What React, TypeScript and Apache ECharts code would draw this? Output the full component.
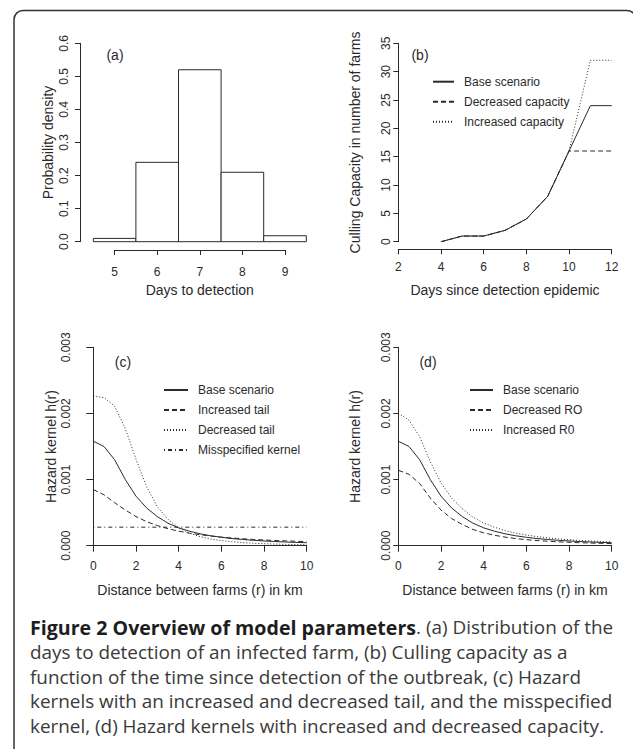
import React, { useEffect, useRef } from "react";
import * as echarts from "echarts";

// ---------- Data ----------
// (a) histogram of days to detection
const histDays = [5, 6, 7, 8, 9];
const histDensity = [0.01, 0.24, 0.52, 0.21, 0.018];

// (b) culling capacity
const cullDays = [4, 5, 6, 7, 8, 9, 10, 11, 12];
const cullBase = [0, 1, 1, 2, 4, 8, 16, 24, 24];
const cullDecreased = [0, 1, 1, 2, 4, 8, 16, 16, 16];
const cullIncreased = [0, 1, 1, 2, 4, 8, 16, 32, 32];

// (c) and (d) hazard kernels
const distanceKm = [0, 0.5, 1, 1.5, 2, 2.5, 3, 3.5, 4, 4.5, 5, 5.5, 6, 6.5, 7, 7.5, 8, 8.5, 9, 9.5, 10];
const kernelBase = [0.00158, 0.0015, 0.0013, 0.001, 0.00075, 0.00057, 0.00044, 0.00034, 0.00027, 0.00022, 0.00018, 0.00015, 0.000127, 0.000108, 0.000094, 0.000081, 0.000072, 0.000063, 0.000056, 0.00005, 0.000045];
const kernelIncreasedTail = [0.00085, 0.00077, 0.00065, 0.00054, 0.00044, 0.000364, 0.000304, 0.000257, 0.00022, 0.00019, 0.000166, 0.000147, 0.00013, 0.000117, 0.000105, 0.000095, 0.000087, 0.000079, 0.000073, 0.000067, 0.000062];
const kernelDecreasedTail = [0.00226, 0.00224, 0.00211, 0.00177, 0.00131, 0.00089, 0.00059, 0.0004, 0.00027, 0.00019, 0.000137, 0.0001, 0.000077, 0.000059, 0.000046, 0.000037, 0.00003, 0.000025, 0.00002, 0.000017, 0.000014];
const misspecDistance = [0, 10];
const kernelMisspecified = [0.00028, 0.00028];
const kernelDecreasedR0 = [0.00114, 0.00108, 0.00094, 0.00072, 0.00054, 0.00041, 0.00032, 0.000245, 0.000195, 0.000158, 0.00013, 0.000108, 0.000091, 0.000078, 0.000068, 0.000058, 0.000052, 0.000045, 0.00004, 0.000036, 0.000032];
const kernelIncreasedR0 = [0.002, 0.0019, 0.00165, 0.00127, 0.00095, 0.00072, 0.00056, 0.00043, 0.000343, 0.00028, 0.000229, 0.00019, 0.000161, 0.000137, 0.000119, 0.000103, 0.000091, 0.00008, 0.000071, 0.000064, 0.000057];

const captionLines = [
  "{b|Figure 2 Overview of model parameters}. (a) Distribution of the",
  "days to detection of an infected farm, (b) Culling capacity as a",
  "function of the time since detection of the outbreak, (c) Hazard",
  "kernels with an increased and decreased tail, and the misspecified",
  "kernel, (d) Hazard kernels with increased and decreased capacity.",
];

// ---------- Styles ----------
const FONT = "'Liberation Sans', Arial, sans-serif";
const CAPTION_FONT = "'Open Sans', sans-serif";
const INK = "#2a2a2a";
const TICK_SIZE = 12;
const SOLID = "solid";
const DASHED = [5, 3];
const DOTTED = [1, 2];
const DOTDASH = [1, 3, 4, 3];

const pairs = (xs: number[], ys: number[]) => xs.map((x, i) => [x, ys[i]]);

function lineSeries(name: string, xs: number[], ys: number[], idx: number, type: any) {
  return {
    type: "line",
    name,
    xAxisIndex: idx,
    yAxisIndex: idx,
    data: pairs(xs, ys),
    symbol: "none",
    showSymbol: false,
    silent: true,
    lineStyle: { color: INK, width: 1, type },
    itemStyle: { color: INK },
    emphasis: { disabled: true },
  };
}

function xAxisCfg(gridIndex: number, min: number, max: number, interval: number, name: string, offset: number, margin: number, nameGap: number, tickLen: number) {
  return {
    type: "value",
    gridIndex,
    min,
    max,
    interval,
    offset,
    name,
    nameLocation: "middle",
    nameGap,
    nameMoveOverlap: false,
    nameTextStyle: { fontFamily: FONT, fontSize: 14, color: INK },
    axisLine: { show: true, onZero: false, lineStyle: { color: INK, width: 1 } },
    axisTick: { show: true, length: tickLen, inside: false, lineStyle: { color: INK, width: 1 } },
    axisLabel: { show: true, margin, fontFamily: FONT, fontSize: TICK_SIZE, color: INK, showMinLabel: true, showMaxLabel: true },
    splitLine: { show: false },
  };
}

function yAxisCfg(gridIndex: number, min: number, max: number, interval: number, name: string, offset: number, margin: number, nameGap: number, decimals: number, tickLen: number) {
  return {
    type: "value",
    gridIndex,
    min,
    max,
    interval,
    offset,
    name,
    nameLocation: "middle",
    nameGap,
    nameMoveOverlap: false,
    nameTextStyle: { fontFamily: FONT, fontSize: 14, color: INK },
    axisLine: { show: true, onZero: false, lineStyle: { color: INK, width: 1 } },
    axisTick: { show: true, length: tickLen, inside: false, lineStyle: { color: INK, width: 1 } },
    axisLabel: {
      show: true,
      rotate: 90,
      margin,
      fontFamily: FONT,
      fontSize: TICK_SIZE,
      color: INK,
      showMinLabel: true,
      showMaxLabel: true,
      formatter: (v: number) => v.toFixed(decimals),
    },
    splitLine: { show: false },
  };
}

function legendCfg(left: number, top: number, data: string[], itemWidth: number) {
  return {
    show: true,
    orient: "vertical",
    left,
    top,
    padding: 0,
    itemGap: 6,
    itemWidth,
    itemHeight: 14,
    selectedMode: false,
    data,
    itemStyle: { opacity: 0, color: "transparent", borderWidth: 0 },
    textStyle: { fontFamily: FONT, fontSize: 12, color: INK, lineHeight: 14, padding: [0, 0, 0, 5] },
  };
}

const label = (text: string, x: number, y: number) => ({
  type: "text",
  x,
  y,
  silent: true,
  style: { text, fontFamily: FONT, fontSize: 14, fill: INK, align: "center", verticalAlign: "middle" },
});

export default function App() {
  const ref = useRef<HTMLDivElement>(null);

  useEffect(() => {
    if (!ref.current) return;
    const chart = echarts.init(ref.current, null, { renderer: "svg" });

    const unitA = 42.6;
    const option: any = {
      animation: false,
      backgroundColor: "#ffffff",
      grid: [
        { left: 93.3, top: 43.3, width: unitA * 5, height: 198.4 },
        { left: 93.3 + unitA * 0.5, top: 43.3, width: unitA * 4, height: 198.4 },
        { left: 398.3, top: 43.3, width: 213.4, height: 198.4 },
        { left: 93.3, top: 347.3, width: 213.4, height: 198.4 },
        { left: 398.3, top: 347.3, width: 213.4, height: 198.4 },
      ],
      xAxis: [
        { type: "value", gridIndex: 0, min: 4.5, max: 9.5, show: false },
        xAxisCfg(1, 5, 9, 1, "Days to detection", 8.3, 16, 33, 5),
        xAxisCfg(2, 2, 12, 2, "Days since detection epidemic", 7.6, 12, 34, 5),
        xAxisCfg(3, 0, 10, 2, "Distance between farms (r) in km", 0, 14, 37, 6),
        xAxisCfg(4, 0, 10, 2, "Distance between farms (r) in km", 0, 14, 37, 6),
      ],
      yAxis: [
        yAxisCfg(0, 0, 0.6, 0.1, "Probability density", 13.3, 10, 25, 1, 5),
        { type: "value", gridIndex: 1, min: 0, max: 1, show: false },
        yAxisCfg(2, 0, 35, 5, "Culling Capacity in number of farms", 0, 6, 36, 0, 5),
        yAxisCfg(3, 0, 0.003, 0.001, "Hazard kernel h(r)", 0, 21, 35, 3, 7),
        yAxisCfg(4, 0, 0.003, 0.001, "Hazard kernel h(r)", 0, 6, 36, 3, 5),
      ],
      legend: [
        legendCfg(432, 74.7, ["Base scenario", "Decreased capacity", "Increased capacity"], 21),
        legendCfg(163, 383, ["Base scenario", "Increased tail", "Decreased tail", "Misspecified kernel"], 24),
        legendCfg(469, 383, ["Base scenario", "Decreased RO", "Increased R0"], 23),
      ],
      series: [
        {
          type: "custom",
          name: "Histogram",
          xAxisIndex: 0,
          yAxisIndex: 0,
          silent: true,
          data: pairs(histDays, histDensity),
          renderItem: (params: any, api: any) => {
            const x = api.value(0);
            const y = api.value(1);
            const p0 = api.coord([x - 0.5, 0]);
            const p1 = api.coord([x + 0.5, y]);
            return {
              type: "rect",
              shape: { x: p0[0], y: p1[1], width: p1[0] - p0[0], height: p0[1] - p1[1] },
              style: { fill: "#ffffff", stroke: INK, lineWidth: 1 },
            };
          },
        },
        lineSeries("Base scenario", cullDays, cullBase, 2, SOLID),
        lineSeries("Decreased capacity", cullDays, cullDecreased, 2, DASHED),
        lineSeries("Increased capacity", cullDays, cullIncreased, 2, DOTTED),
        lineSeries("Base scenario", distanceKm, kernelBase, 3, SOLID),
        lineSeries("Increased tail", distanceKm, kernelIncreasedTail, 3, DASHED),
        lineSeries("Decreased tail", distanceKm, kernelDecreasedTail, 3, DOTTED),
        lineSeries("Misspecified kernel", misspecDistance, kernelMisspecified, 3, DOTDASH),
        lineSeries("Base scenario", distanceKm, kernelBase, 4, SOLID),
        lineSeries("Decreased RO", distanceKm, kernelDecreasedR0, 4, DASHED),
        lineSeries("Increased R0", distanceKm, kernelIncreasedR0, 4, DOTTED),
      ],
      graphic: [
        {
          type: "rect",
          silent: true,
          z: -10,
          shape: { x: 14, y: 10.5, width: 622, height: 746, r: 9 },
          style: { fill: "none", stroke: "#333333", lineWidth: 1.5 },
        },
        label("(a)", 115, 55),
        label("(b)", 420, 55),
        label("(c)", 123, 361.7),
        label("(d)", 428, 361.7),
        {
          type: "text",
          x: 30,
          y: 614.6,
          silent: true,
          style: {
            text: captionLines.join("\n"),
            fontFamily: CAPTION_FONT,
            fontSize: 18.9,
            lineHeight: 24.8,
            fill: "#3a3a3a",
            rich: {
              b: { fontFamily: CAPTION_FONT, fontSize: 19.6, fontWeight: "bold", fill: "#1e1e1e", lineHeight: 24.8 },
            },
          },
        },
      ],
    };

    chart.setOption(option);
    return () => chart.dispose();
  }, []);

  return <div ref={ref} style={{ position: "fixed", left: 0, top: 0, width: 633, height: 749 }} />;
}
